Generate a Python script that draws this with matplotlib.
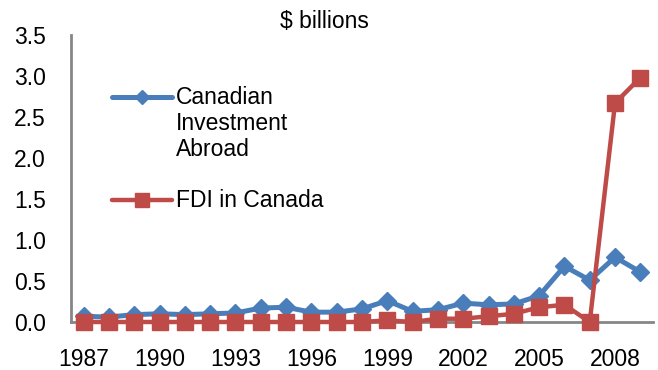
import matplotlib
matplotlib.use("Agg")
import matplotlib.pyplot as plt
from matplotlib.lines import Line2D

plt.rcParams['font.family'] = ['Liberation Sans', 'DejaVu Sans']

years = list(range(1987, 2010))
abroad = [0.07, 0.06, 0.09, 0.10, 0.09, 0.10, 0.11, 0.17, 0.18, 0.12, 0.12, 0.16,
          0.26, 0.13, 0.15, 0.23, 0.21, 0.22, 0.32, 0.68, 0.51, 0.79, 0.61]
fdi = [0.0, 0.0, 0.0, 0.0, 0.0, 0.0, 0.0, 0.0, 0.0, 0.0, 0.0, 0.0,
       0.02, 0.0, 0.04, 0.04, 0.07, 0.10, 0.18, 0.21, 0.0, 2.67, 2.98]
labels = ["Canadian\nInvestment\nAbroad", "FDI in Canada"]
yticks = [0.0, 0.5, 1.0, 1.5, 2.0, 2.5, 3.0, 3.5]

blue = '#4a7ebb'
red = '#be4b48'
grey = '#868686'

fig = plt.figure(figsize=(6.58, 3.70), dpi=100)
ax = fig.add_axes([71/658, 1-322/370, 582/658, 287/370])

x = list(range(len(years)))
ax.plot(x, abroad, color=blue, lw=3.6, marker='D', ms=9, zorder=3, clip_on=False)
ax.plot(x, fdi, color=red, lw=3.2, marker='s', ms=11, zorder=4, clip_on=False)

ax.set_xlim(-0.5, len(years) - 0.5)
ax.set_ylim(0, 3.5)
ax.set_yticks(yticks)
ax.set_yticklabels([f"{v:.1f}" for v in yticks])
ax.set_xticks(x[::3])
ax.set_xticklabels([str(y) for y in years[::3]])
ax.tick_params(axis='both', length=0, labelsize=16.5, colors='black')
ax.tick_params(axis='y', pad=18)
ax.tick_params(axis='x', pad=19)
for s in ['top', 'right']:
    ax.spines[s].set_visible(False)
for s in ['left', 'bottom']:
    ax.spines[s].set_color(grey)
    ax.spines[s].set_linewidth(2)
    ax.spines[s].set_zorder(1)

ax.set_title("$ billions", fontsize=16.5, x=(324-71)/582, pad=5)

# legend drawn manually to keep handles aligned with first label line
for yy, col, mk, ms, lw, lab in [(0.784, blue, 'D', 7, 3.6, labels[0]),
                                 (0.425, red, 's', 10, 3.2, labels[1])]:
    ln = Line2D([0.0704, 0.1735], [yy, yy], transform=ax.transAxes, color=col, lw=lw,
                solid_capstyle='round', zorder=4)
    ax.add_line(ln)
    ax.add_line(Line2D([0.122], [yy], transform=ax.transAxes, color=col, marker=mk,
                       ms=ms, lw=0, zorder=5))
    ax.text(0.180, yy + 0.037, lab, transform=ax.transAxes, fontsize=16.5,
            va='top', ha='left', linespacing=1.17)

fig.savefig("out.png", dpi=100)
